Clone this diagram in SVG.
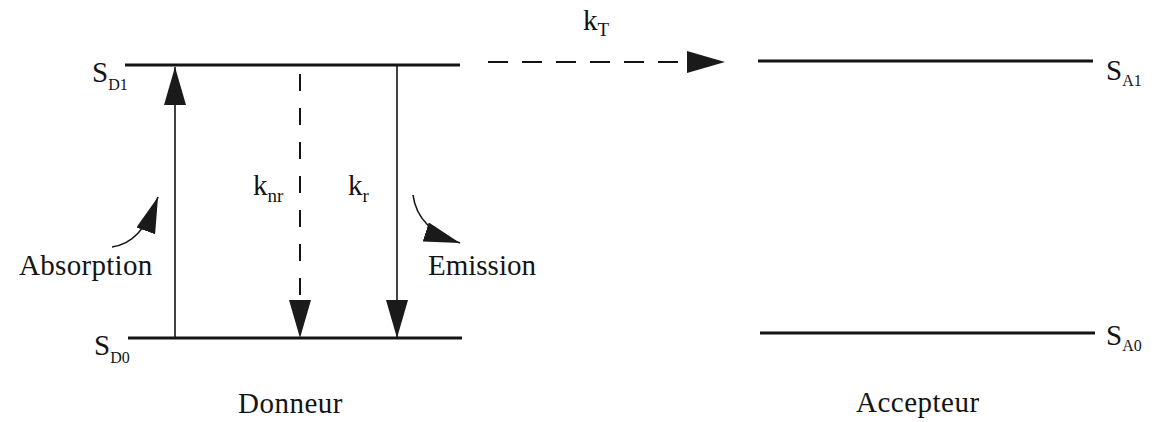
<svg xmlns="http://www.w3.org/2000/svg" width="1158" height="422" viewBox="0 0 1158 422">
<style>
  .lvl{stroke:#141414;stroke-width:3;fill:none}
  .ar{stroke:#141414;stroke-width:1.6;fill:none}
  .dash{stroke:#141414;stroke-width:2;fill:none}
  text{font-family:"Liberation Serif","Times New Roman",serif;fill:#141414}
  .big{font-size:29px}
  .lbl{font-size:29px}
  .sub{font-size:16px}
  .ksub{font-size:19px}
  .k{font-size:29px}
</style>
<defs>
  <marker id="ah" markerUnits="userSpaceOnUse" viewBox="0 0 38 22" markerWidth="38" markerHeight="22" refX="38" refY="11" orient="auto">
    <path d="M0,0 L38,11 L0,22 Z" fill="#1a1a1a"/>
  </marker>
  <marker id="ahc" markerUnits="userSpaceOnUse" viewBox="0 0 36 20" markerWidth="36" markerHeight="20" refX="36" refY="10" orient="auto">
    <path d="M0,0 L36,10 L0,20 Z" fill="#1a1a1a"/>
  </marker>
</defs>
<rect width="1158" height="422" fill="#ffffff"/>

<g id="SD1">
  <line class="lvl" x1="125" y1="65" x2="460" y2="65"/>
  <text class="big" x="92" y="82">S<tspan class="sub" dy="8">D1</tspan></text>
</g>
<g id="SD0">
  <line class="lvl" x1="128" y1="338" x2="462" y2="338"/>
  <text class="big" x="94" y="355">S<tspan class="sub" dy="8">D0</tspan></text>
</g>
<g id="SA1">
  <line class="lvl" x1="758" y1="61" x2="1093" y2="61"/>
  <text class="big" x="1106" y="80">S<tspan class="sub" dy="6">A1</tspan></text>
</g>
<g id="SA0">
  <line class="lvl" x1="760" y1="333" x2="1095" y2="333"/>
  <text class="big" x="1106" y="345">S<tspan class="sub" dy="6">A0</tspan></text>
</g>
<g id="donneur">
  <text class="lbl" x="238" y="413" letter-spacing="0.5">Donneur</text>
</g>
<g id="accepteur">
  <text class="lbl" x="856" y="412" letter-spacing="0.5">Accepteur</text>
</g>
<g id="absorption">
  <text class="lbl" x="19" y="275" letter-spacing="0.3">Absorption</text>
</g>
<g id="emission">
  <text class="lbl" x="428" y="275">Emission</text>
</g>

<g id="connectors">
  <line class="ar" x1="175" y1="338" x2="175" y2="67" marker-end="url(#ah)"/>
  <line class="dash" x1="300" y1="67" x2="300" y2="338" stroke-dasharray="17 17" stroke-dashoffset="-7" marker-end="url(#ah)"/>
  <line class="ar" x1="397" y1="66" x2="397" y2="338" marker-end="url(#ah)"/>
  <line class="dash" x1="488" y1="62" x2="725" y2="62" stroke-dasharray="20 14" marker-end="url(#ah)"/>
  <path class="ar" d="M112,247 C132,244 146,230 158,197" marker-end="url(#ahc)"/>
  <path class="ar" d="M413,195 C416,218 432,234 460,243" marker-end="url(#ahc)"/>
  <text class="k" x="583" y="30">k<tspan class="ksub" dy="6">T</tspan></text>
  <text class="k" x="253" y="195">k<tspan class="ksub" dy="7">nr</tspan></text>
  <text class="k" x="348" y="195">k<tspan class="ksub" dy="7">r</tspan></text>
</g>
</svg>
